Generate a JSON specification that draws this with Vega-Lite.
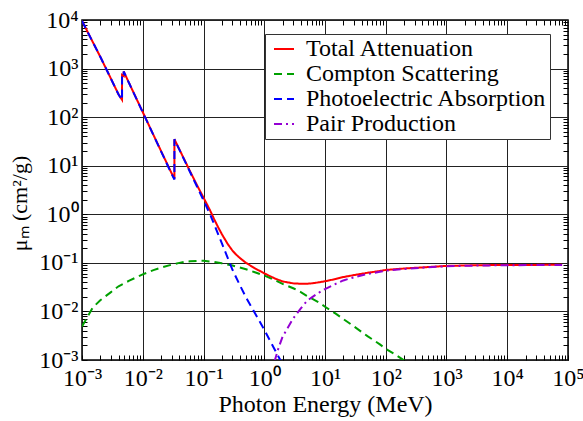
{
  "$schema": "https://vega.github.io/schema/vega-lite/v6.json",
  "width": 486,
  "height": 340,
  "autosize": "none",
  "padding": {"left": 82, "top": 20, "right": 15, "bottom": 61},
  "background": "white",
  "config": {
    "font": "Liberation Serif, Times New Roman, serif",
    "view": {"stroke": "black", "strokeWidth": 1.5},
    "axis": {"domain": false, "labelFont": "Liberation Serif, Times New Roman, serif", "titleFont": "Liberation Serif, Times New Roman, serif"},
    "legend": {"labelFont": "Liberation Serif, Times New Roman, serif", "titleFont": "Liberation Serif, Times New Roman, serif"}
  },
  "data": {"values": [
    {"s":"Total Attenuation","E":0.001,"mu":9610},
    {"s":"Total Attenuation","E":0.0015,"mu":3545},
    {"s":"Total Attenuation","E":0.002,"mu":1748},
    {"s":"Total Attenuation","E":0.003,"mu":617},
    {"s":"Total Attenuation","E":0.004,"mu":293},
    {"s":"Total Attenuation","E":0.00456,"mu":227},
    {"s":"Total Attenuation","E":0.004561,"mu":741},
    {"s":"Total Attenuation","E":0.00485,"mu":701},
    {"s":"Total Attenuation","E":0.004851,"mu":871},
    {"s":"Total Attenuation","E":0.006,"mu":494},
    {"s":"Total Attenuation","E":0.008,"mu":230},
    {"s":"Total Attenuation","E":0.01,"mu":127},
    {"s":"Total Attenuation","E":0.015,"mu":43},
    {"s":"Total Attenuation","E":0.02,"mu":20.1},
    {"s":"Total Attenuation","E":0.03,"mu":6.9},
    {"s":"Total Attenuation","E":0.0332,"mu":5.4},
    {"s":"Total Attenuation","E":0.03321,"mu":35.2},
    {"s":"Total Attenuation","E":0.04,"mu":21.8},
    {"s":"Total Attenuation","E":0.05,"mu":12.3},
    {"s":"Total Attenuation","E":0.06,"mu":7.7},
    {"s":"Total Attenuation","E":0.08,"mu":3.75},
    {"s":"Total Attenuation","E":0.1,"mu":2.21},
    {"s":"Total Attenuation","E":0.128,"mu":1.21},
    {"s":"Total Attenuation","E":0.15,"mu":0.79},
    {"s":"Total Attenuation","E":0.175,"mu":0.535},
    {"s":"Total Attenuation","E":0.2,"mu":0.392},
    {"s":"Total Attenuation","E":0.25,"mu":0.245},
    {"s":"Total Attenuation","E":0.3,"mu":0.178},
    {"s":"Total Attenuation","E":0.35,"mu":0.145},
    {"s":"Total Attenuation","E":0.4,"mu":0.125},
    {"s":"Total Attenuation","E":0.5,"mu":0.1},
    {"s":"Total Attenuation","E":0.6,"mu":0.087},
    {"s":"Total Attenuation","E":0.7,"mu":0.077},
    {"s":"Total Attenuation","E":0.85,"mu":0.068},
    {"s":"Total Attenuation","E":1,"mu":0.061},
    {"s":"Total Attenuation","E":1.25,"mu":0.053},
    {"s":"Total Attenuation","E":1.5,"mu":0.0476},
    {"s":"Total Attenuation","E":2,"mu":0.0415},
    {"s":"Total Attenuation","E":3,"mu":0.0378},
    {"s":"Total Attenuation","E":4,"mu":0.0372},
    {"s":"Total Attenuation","E":5,"mu":0.0372},
    {"s":"Total Attenuation","E":6,"mu":0.0378},
    {"s":"Total Attenuation","E":8,"mu":0.0398},
    {"s":"Total Attenuation","E":10,"mu":0.0418},
    {"s":"Total Attenuation","E":15,"mu":0.0465},
    {"s":"Total Attenuation","E":20,"mu":0.051},
    {"s":"Total Attenuation","E":30,"mu":0.056},
    {"s":"Total Attenuation","E":50,"mu":0.0625},
    {"s":"Total Attenuation","E":80,"mu":0.068},
    {"s":"Total Attenuation","E":100,"mu":0.0715},
    {"s":"Total Attenuation","E":200,"mu":0.0765},
    {"s":"Total Attenuation","E":500,"mu":0.082},
    {"s":"Total Attenuation","E":1000,"mu":0.0865},
    {"s":"Total Attenuation","E":3000,"mu":0.0893},
    {"s":"Total Attenuation","E":10000,"mu":0.0905},
    {"s":"Total Attenuation","E":80000,"mu":0.0912},
    {"s":"Compton Scattering","E":0.001,"mu":0.0049},
    {"s":"Compton Scattering","E":0.0015,"mu":0.012},
    {"s":"Compton Scattering","E":0.002,"mu":0.017},
    {"s":"Compton Scattering","E":0.003,"mu":0.025},
    {"s":"Compton Scattering","E":0.004,"mu":0.033},
    {"s":"Compton Scattering","E":0.006,"mu":0.043},
    {"s":"Compton Scattering","E":0.01,"mu":0.058},
    {"s":"Compton Scattering","E":0.015,"mu":0.071},
    {"s":"Compton Scattering","E":0.02,"mu":0.08},
    {"s":"Compton Scattering","E":0.03,"mu":0.092},
    {"s":"Compton Scattering","E":0.04,"mu":0.1},
    {"s":"Compton Scattering","E":0.05,"mu":0.105},
    {"s":"Compton Scattering","E":0.06,"mu":0.108},
    {"s":"Compton Scattering","E":0.08,"mu":0.11},
    {"s":"Compton Scattering","E":0.1,"mu":0.11},
    {"s":"Compton Scattering","E":0.15,"mu":0.104},
    {"s":"Compton Scattering","E":0.2,"mu":0.098},
    {"s":"Compton Scattering","E":0.3,"mu":0.088},
    {"s":"Compton Scattering","E":0.5,"mu":0.074},
    {"s":"Compton Scattering","E":0.7,"mu":0.064},
    {"s":"Compton Scattering","E":1,"mu":0.055},
    {"s":"Compton Scattering","E":1.5,"mu":0.044},
    {"s":"Compton Scattering","E":2,"mu":0.037},
    {"s":"Compton Scattering","E":3,"mu":0.03},
    {"s":"Compton Scattering","E":4,"mu":0.025},
    {"s":"Compton Scattering","E":5,"mu":0.021},
    {"s":"Compton Scattering","E":6,"mu":0.0185},
    {"s":"Compton Scattering","E":8,"mu":0.0152},
    {"s":"Compton Scattering","E":10,"mu":0.0125},
    {"s":"Compton Scattering","E":15,"mu":0.009},
    {"s":"Compton Scattering","E":20,"mu":0.007},
    {"s":"Compton Scattering","E":30,"mu":0.0049},
    {"s":"Compton Scattering","E":50,"mu":0.0031},
    {"s":"Compton Scattering","E":80,"mu":0.0021},
    {"s":"Compton Scattering","E":100,"mu":0.0017},
    {"s":"Compton Scattering","E":150,"mu":0.00125},
    {"s":"Compton Scattering","E":200,"mu":0.00098},
    {"s":"Compton Scattering","E":250,"mu":0.0008},
    {"s":"Photoelectric Absorption","E":0.001,"mu":9600},
    {"s":"Photoelectric Absorption","E":0.0015,"mu":3540},
    {"s":"Photoelectric Absorption","E":0.002,"mu":1745},
    {"s":"Photoelectric Absorption","E":0.003,"mu":615},
    {"s":"Photoelectric Absorption","E":0.004,"mu":292},
    {"s":"Photoelectric Absorption","E":0.00456,"mu":226},
    {"s":"Photoelectric Absorption","E":0.004561,"mu":740},
    {"s":"Photoelectric Absorption","E":0.00485,"mu":700},
    {"s":"Photoelectric Absorption","E":0.004851,"mu":870},
    {"s":"Photoelectric Absorption","E":0.006,"mu":493},
    {"s":"Photoelectric Absorption","E":0.008,"mu":229},
    {"s":"Photoelectric Absorption","E":0.01,"mu":126},
    {"s":"Photoelectric Absorption","E":0.015,"mu":42.6},
    {"s":"Photoelectric Absorption","E":0.02,"mu":19.8},
    {"s":"Photoelectric Absorption","E":0.03,"mu":6.7},
    {"s":"Photoelectric Absorption","E":0.0332,"mu":5.2},
    {"s":"Photoelectric Absorption","E":0.03321,"mu":35},
    {"s":"Photoelectric Absorption","E":0.04,"mu":21.5},
    {"s":"Photoelectric Absorption","E":0.05,"mu":12},
    {"s":"Photoelectric Absorption","E":0.06,"mu":7.43},
    {"s":"Photoelectric Absorption","E":0.08,"mu":3.5},
    {"s":"Photoelectric Absorption","E":0.1,"mu":1.95},
    {"s":"Photoelectric Absorption","E":0.128,"mu":1.0},
    {"s":"Photoelectric Absorption","E":0.15,"mu":0.62},
    {"s":"Photoelectric Absorption","E":0.2,"mu":0.254},
    {"s":"Photoelectric Absorption","E":0.3,"mu":0.072},
    {"s":"Photoelectric Absorption","E":0.4,"mu":0.034},
    {"s":"Photoelectric Absorption","E":0.5,"mu":0.0195},
    {"s":"Photoelectric Absorption","E":0.7,"mu":0.0093},
    {"s":"Photoelectric Absorption","E":1,"mu":0.0042},
    {"s":"Photoelectric Absorption","E":1.5,"mu":0.0016},
    {"s":"Photoelectric Absorption","E":2,"mu":0.00082},
    {"s":"Pair Production","E":1.3,"mu":0.0004},
    {"s":"Pair Production","E":1.5,"mu":0.001},
    {"s":"Pair Production","E":1.7,"mu":0.0017},
    {"s":"Pair Production","E":2,"mu":0.003},
    {"s":"Pair Production","E":3,"mu":0.0072},
    {"s":"Pair Production","E":4,"mu":0.0115},
    {"s":"Pair Production","E":5,"mu":0.0162},
    {"s":"Pair Production","E":6,"mu":0.0193},
    {"s":"Pair Production","E":8,"mu":0.0245},
    {"s":"Pair Production","E":10,"mu":0.0288},
    {"s":"Pair Production","E":15,"mu":0.037},
    {"s":"Pair Production","E":20,"mu":0.0435},
    {"s":"Pair Production","E":30,"mu":0.0505},
    {"s":"Pair Production","E":50,"mu":0.059},
    {"s":"Pair Production","E":80,"mu":0.0655},
    {"s":"Pair Production","E":100,"mu":0.069},
    {"s":"Pair Production","E":200,"mu":0.075},
    {"s":"Pair Production","E":500,"mu":0.081},
    {"s":"Pair Production","E":1000,"mu":0.085},
    {"s":"Pair Production","E":3000,"mu":0.088},
    {"s":"Pair Production","E":10000,"mu":0.0895},
    {"s":"Pair Production","E":80000,"mu":0.0905}
  ]},
  "resolve": {"axis": {"x": "independent", "y": "independent"}},
  "layer": [
    {
      "mark": {"type": "line", "clip": true, "strokeWidth": 2},
      "encoding": {
        "x": {
          "field": "E", "type": "quantitative",
          "scale": {"type": "log", "domain": [0.001, 100000], "nice": false},
          "axis": {
            "orient": "bottom",
            "values": [0.001,0.002,0.003,0.004,0.005,0.006,0.007,0.008,0.009,0.01,0.02,0.03,0.04,0.05,0.06,0.07,0.08,0.09,0.1,0.2,0.3,0.4,0.5,0.6,0.7,0.8,0.9,1,2,3,4,5,6,7,8,9,10,20,30,40,50,60,70,80,90,100,200,300,400,500,600,700,800,900,1000,2000,3000,4000,5000,6000,7000,8000,9000,10000,20000,30000,40000,50000,60000,70000,80000,90000,100000],
            "labelExpr": "abs(log(datum.value)/LN10 - round(log(datum.value)/LN10)) < 0.001 ? ['10⁻³','10⁻²','10⁻¹','10⁰','10¹','10²','10³','10⁴','10⁵'][round(log(datum.value)/LN10)+3] : ''",
            "labelOverlap": false,
            "labelFlush": false,
            "labelFontSize": 24,
            "labelColor": "black",
            "labelPadding": 11,
            "tickSize": -5,
            "tickColor": "black",
            "grid": true,
            "gridColor": "#222222",
            "gridWidth": 1,
            "gridOpacity": {"condition": {"test": "abs(log(datum.value)/LN10 - round(log(datum.value)/LN10)) < 0.001", "value": 1}, "value": 0},
            "title": "Photon Energy (MeV)",
            "titleFontSize": 24,
            "titleFontWeight": "normal",
            "titleColor": "black",
            "titleBaseline": "alphabetic",
            "titleY": 51
          }
        },
        "y": {
          "field": "mu", "type": "quantitative",
          "scale": {"type": "log", "domain": [0.001, 10000], "nice": false},
          "axis": {
            "orient": "left",
            "values": [0.001,0.002,0.003,0.004,0.005,0.006,0.007,0.008,0.009,0.01,0.02,0.03,0.04,0.05,0.06,0.07,0.08,0.09,0.1,0.2,0.3,0.4,0.5,0.6,0.7,0.8,0.9,1,2,3,4,5,6,7,8,9,10,20,30,40,50,60,70,80,90,100,200,300,400,500,600,700,800,900,1000,2000,3000,4000,5000,6000,7000,8000,9000,10000],
            "labelExpr": "abs(log(datum.value)/LN10 - round(log(datum.value)/LN10)) < 0.001 ? ['10⁻³','10⁻²','10⁻¹','10⁰','10¹','10²','10³','10⁴'][round(log(datum.value)/LN10)+3] : ''",
            "labelOverlap": false,
            "labelFlush": false,
            "labelFontSize": 24,
            "labelColor": "black",
            "labelPadding": 9,
            "labelOffset": 0,
            "tickSize": -5,
            "tickColor": "black",
            "grid": true,
            "gridColor": "#222222",
            "gridWidth": 1,
            "gridOpacity": {"condition": {"test": "abs(log(datum.value)/LN10 - round(log(datum.value)/LN10)) < 0.001", "value": 1}, "value": 0},
            "title": "μₘ (cm²/g)",
            "titleFontSize": 22,
            "titleFontWeight": "normal",
            "titleColor": "black",
            "titleX": -51,
            "titleY": 183
          }
        },
        "color": {
          "field": "s", "type": "nominal",
          "scale": {
            "domain": ["Total Attenuation", "Compton Scattering", "Photoelectric Absorption", "Pair Production"],
            "range": ["#ff0000", "#00a000", "#0000ff", "#9400d3"]
          },
          "legend": {
            "title": null,
            "orient": "none",
            "legendX": 183,
            "legendY": 14,
            "strokeColor": "#333333",
            "fillColor": "white",
            "padding": 3,
            "symbolOffset": 4,
            "labelFontSize": 24,
            "labelLimit": 400,
            "labelColor": "black",
            "labelOffset": 10,
            "symbolType": "stroke",
            "symbolSize": 400,
            "symbolStrokeWidth": 2,
            "rowPadding": 1
          }
        },
        "strokeDash": {
          "field": "s", "type": "nominal",
          "scale": {
            "domain": ["Total Attenuation", "Compton Scattering", "Photoelectric Absorption", "Pair Production"],
            "range": [[1, 0], [8, 5], [8, 5], [8, 4, 2, 4]]
          },
          "legend": {
            "title": null,
            "orient": "none",
            "legendX": 183,
            "legendY": 14,
            "strokeColor": "#333333",
            "fillColor": "white",
            "padding": 3,
            "symbolOffset": 4,
            "labelFontSize": 24,
            "labelLimit": 400,
            "labelColor": "black",
            "labelOffset": 10,
            "symbolType": "stroke",
            "symbolSize": 400,
            "symbolStrokeWidth": 2,
            "rowPadding": 1
          }
        }
      }
    },
    {
      "mark": {"type": "line", "strokeOpacity": 0, "clip": true},
      "encoding": {
        "x": {
          "field": "E", "type": "quantitative",
          "scale": {"type": "log", "domain": [0.001, 100000], "nice": false},
          "axis": {
            "orient": "top",
            "values": [0.002,0.003,0.004,0.005,0.006,0.007,0.008,0.009,0.02,0.03,0.04,0.05,0.06,0.07,0.08,0.09,0.2,0.3,0.4,0.5,0.6,0.7,0.8,0.9,2,3,4,5,6,7,8,9,20,30,40,50,60,70,80,90,200,300,400,500,600,700,800,900,2000,3000,4000,5000,6000,7000,8000,9000,20000,30000,40000,50000,60000,70000,80000,90000],
            "labels": false,
            "grid": false,
            "tickSize": -5,
            "tickColor": "black",
            "title": null
          }
        },
        "y": {
          "field": "mu", "type": "quantitative",
          "scale": {"type": "log", "domain": [0.001, 10000], "nice": false},
          "axis": {
            "orient": "right",
            "values": [0.002,0.003,0.004,0.005,0.006,0.007,0.008,0.009,0.02,0.03,0.04,0.05,0.06,0.07,0.08,0.09,0.2,0.3,0.4,0.5,0.6,0.7,0.8,0.9,2,3,4,5,6,7,8,9,20,30,40,50,60,70,80,90,200,300,400,500,600,700,800,900,2000,3000,4000,5000,6000,7000,8000,9000],
            "labels": false,
            "grid": false,
            "tickSize": -5,
            "tickColor": "black",
            "title": null
          }
        }
      }
    }
  ]
}
